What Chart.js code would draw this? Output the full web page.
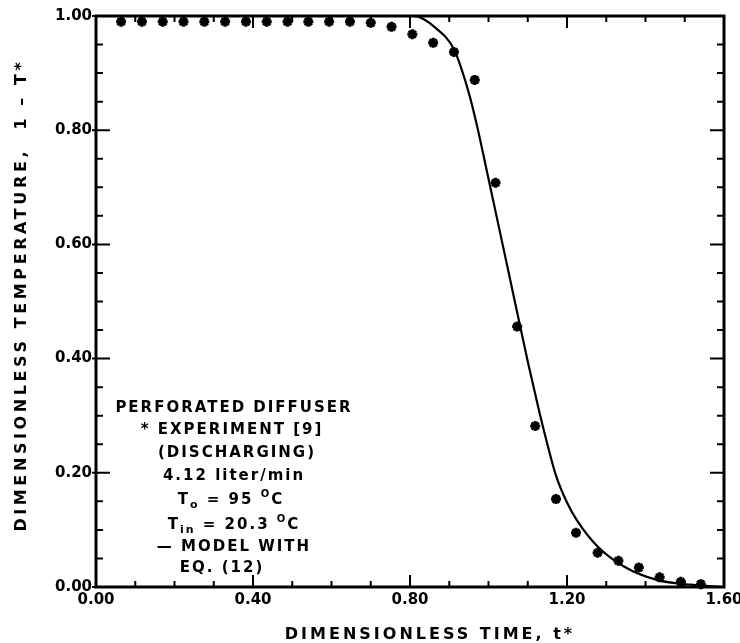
<!DOCTYPE html>
<html>
<head>
<meta charset="utf-8">
<script src="https://cdn.jsdelivr.net/npm/chart.js@4.4.1/dist/chart.umd.min.js"></script>
<style>
  html, body { margin: 0; padding: 0; background: #fff; }
  #wrap { width: 740px; height: 643px; }
</style>
</head>
<body>
<div id="wrap"><canvas id="chart" width="740" height="643"></canvas></div>
<script>
// experiment points (asterisks)
const expTime = [0.064, 0.117, 0.170, 0.223, 0.276, 0.329, 0.382, 0.435, 0.488, 0.541,
  0.594, 0.647, 0.700, 0.753, 0.806, 0.859, 0.912, 0.965, 1.018, 1.073,
  1.119, 1.172, 1.223, 1.278, 1.331, 1.383, 1.436, 1.490, 1.541];
const expTemp = [0.990, 0.990, 0.990, 0.990, 0.990, 0.990, 0.990, 0.990, 0.990, 0.990,
  0.990, 0.990, 0.988, 0.981, 0.968, 0.953, 0.937, 0.888, 0.708, 0.456,
  0.282, 0.154, 0.095, 0.060, 0.046, 0.034, 0.017, 0.009, 0.005];

// model curve, eq. (12)
const modelTime = [0.00, 0.81, 0.862, 0.913, 0.95, 0.97, 1.00, 1.05, 1.10, 1.13,
  1.15, 1.172, 1.20, 1.227, 1.278, 1.345, 1.431, 1.516, 1.600];
const modelTemp = [1.000, 1.000, 0.981, 0.940, 0.865, 0.810, 0.715, 0.555, 0.395, 0.305,
  0.250, 0.195, 0.148, 0.115, 0.071, 0.036, 0.012, 0.004, 0.000];

const xTitle = 'DIMENSIONLESS TIME, t*';
const yTitle = 'DIMENSIONLESS TEMPERATURE,  1 \u2013 T*';

// note inside the plot; each line is a list of [text, size, shift]
const noteLines = [
  [['PERFORATED DIFFUSER', 15, 0]],
  [['* EXPERIMENT [9]', 15, 0]],
  [['(DISCHARGING)', 15, 0]],
  [['4.12 liter/min', 15, 0]],
  [['T', 15, 0], ['o', 11, 5], [' = 95 ', 15, 0], ['O', 10, -6], ['C', 15, 0]],
  [['T', 15, 0], ['in', 11, 5], [' = 20.3 ', 15, 0], ['O', 10, -6], ['C', 15, 0]],
  [['\u2014 MODEL WITH', 15, 0]],
  [['EQ. (12)', 15, 0]]
];

Chart.defaults.font.family = '"DejaVu Sans", sans-serif';
Chart.defaults.font.weight = 'bold';
Chart.defaults.font.size = 15;
Chart.defaults.color = '#000';

const toPts = (xs, ys) => xs.map((x, i) => ({x: x, y: ys[i]}));

// frame, inward ticks on all four sides, titles and the note
const decor = {
  id: 'decor',
  afterDraw(chart) {
    const ctx = chart.ctx;
    const a = chart.chartArea;
    const xs = chart.scales.x, ys = chart.scales.y;
    ctx.save();
    ctx.strokeStyle = '#000';
    ctx.lineWidth = 3;
    ctx.strokeRect(a.left, a.top, a.right - a.left, a.bottom - a.top);
    ctx.lineWidth = 2;
    ctx.beginPath();
    for (let i = 0; i <= 16; i++) {
      const px = xs.getPixelForValue(i * 0.1);
      const len = i % 4 === 0 ? 12 : 6;
      ctx.moveTo(px, a.bottom); ctx.lineTo(px, a.bottom - len);
      ctx.moveTo(px, a.top); ctx.lineTo(px, a.top + len);
    }
    for (let i = 0; i <= 20; i++) {
      const py = ys.getPixelForValue(i * 0.05);
      const len = i % 4 === 0 ? 14 : 7;
      ctx.moveTo(a.left - (i % 4 === 0 ? 4 : 0), py); ctx.lineTo(a.left + len, py);
      ctx.moveTo(a.right, py); ctx.lineTo(a.right - len, py);
    }
    ctx.stroke();

    ctx.fillStyle = '#000';
    ctx.textBaseline = 'middle';
    ctx.letterSpacing = '3px';
    ctx.font = 'bold 16px "DejaVu Sans"';
    ctx.textAlign = 'center';
    ctx.fillText(xTitle, 430, 635);
    ctx.save();
    ctx.translate(22, 295);
    ctx.rotate(-Math.PI / 2);
    ctx.letterSpacing = '3.6px';
    ctx.fillText(yTitle, 0, 0);
    ctx.restore();

    ctx.letterSpacing = '2px';
    ctx.textAlign = 'left';
    const centers = [234, 232, 237, 234, 231, 234, 234, 222];
    const rows = [408, 430, 453, 476, 500, 525, 547, 568];
    noteLines.forEach((parts, k) => {
      let w = 0;
      parts.forEach(p => { ctx.font = 'bold ' + p[1] + 'px "DejaVu Sans"'; w += ctx.measureText(p[0]).width; });
      let x = centers[k] - w / 2;
      parts.forEach(p => {
        ctx.font = 'bold ' + p[1] + 'px "DejaVu Sans"';
        ctx.fillText(p[0], x, rows[k] + p[2]);
        x += ctx.measureText(p[0]).width;
      });
    });
    ctx.restore();
  }
};

new Chart(document.getElementById('chart'), {
  type: 'scatter',
  data: {
    datasets: [
      {
        label: 'Model',
        data: toPts(modelTime, modelTemp),
        showLine: true,
        borderColor: '#000',
        borderWidth: 2.2,
        pointRadius: 0,
        cubicInterpolationMode: 'monotone',
        fill: false
      },
      {
        label: 'Experiment',
        data: toPts(expTime, expTemp),
        pointStyle: 'star',
        pointRadius: 5,
        borderWidth: 3,
        borderColor: '#000',
        backgroundColor: '#000',
        clip: false
      }
    ]
  },
  options: {
    responsive: false,
    animation: false,
    layout: { padding: { left: 0, right: 16, top: 16, bottom: 0 } },
    plugins: { legend: { display: false }, tooltip: { enabled: false } },
    scales: {
      x: {
        type: 'linear', min: 0, max: 1.6,
        grid: { display: false, drawTicks: false },
        border: { display: false },
        ticks: { stepSize: 0.4, padding: 4, maxRotation: 0, callback: v => v.toFixed(2) },
        afterFit: s => { s.height = 56; s.paddingRight = 0; s.paddingLeft = 0; }
      },
      y: {
        type: 'linear', min: 0, max: 1,
        grid: { display: false, drawTicks: false },
        border: { display: false },
        ticks: { stepSize: 0.2, padding: 4, callback: v => v.toFixed(2) },
        afterFit: s => { s.width = 96; s.paddingTop = 0; s.paddingBottom = 0; }
      }
    }
  },
  plugins: [decor]
});
</script>
</body>
</html>
